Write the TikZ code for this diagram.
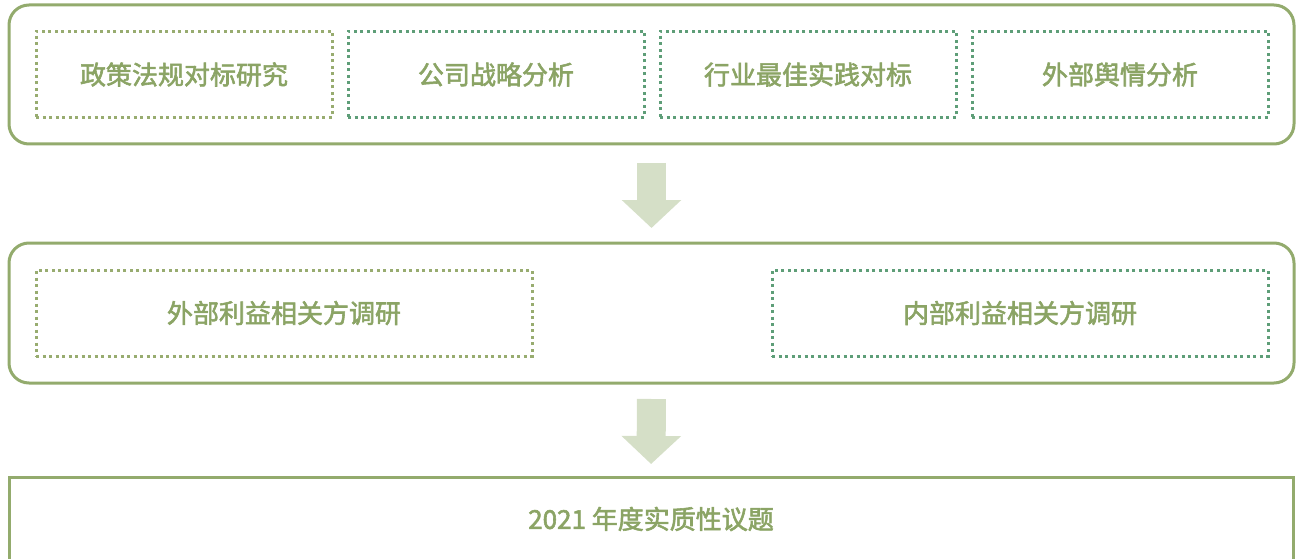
\documentclass[tikz,border=0pt]{standalone}
\usepackage{fontspec}
\newfontfamily\cjk{Noto Sans CJK SC}[FakeBold=2.2]
\usepackage{xcolor}
\usepackage{tikz}
\usetikzlibrary{arrows.meta}

\definecolor{frameg}{HTML}{93AB6D}
\definecolor{oliveg}{HTML}{98AC70}
\definecolor{tealg}{HTML}{5E9E78}
\definecolor{textg}{HTML}{8BA465}
\definecolor{arrowg}{HTML}{D5DFC7}

\begin{document}
\begin{tikzpicture}[x=1pt,y=-1pt,
			frame/.style={draw=frameg,line width=3pt,minimum width=1285pt,inner sep=0pt},
			dotbox/.style={line width=3pt,dash pattern=on 3pt off 3.5pt,minimum height=86pt,inner sep=0pt},
			label/.style={text=textg,font=\cjk\fontsize{26}{30}\selectfont},
			flow/.style={arrowg,line width=29pt,-{Triangle[width=58pt,length=28pt]}}]
			\useasboundingbox (0,0) rectangle (1296,559);
			
			% first row
			\node[frame,rounded corners=20pt,minimum height=139pt] (research) at (651.5,74.5) {};
			\node[dotbox,draw=oliveg,minimum width=296pt,label] (policy) at (184,74.5) {政策法规对标研究};
			\node[dotbox,draw=tealg,minimum width=296pt,label] (strategy) at (496,74.5) {公司战略分析};
			\node[dotbox,draw=tealg,minimum width=296pt,label] (practice) at (808,74.5) {行业最佳实践对标};
			\node[dotbox,draw=tealg,minimum width=296pt,label] (opinion) at (1120,74.5) {外部舆情分析};
			
			% second row
			\node[frame,rounded corners=20pt,minimum height=140pt] (survey) at (651.5,313) {};
			\node[dotbox,draw=oliveg,minimum width=496pt,label] (external) at (284,313) {外部利益相关方调研};
			\node[dotbox,draw=tealg,minimum width=496pt,label] (internal) at (1020,313) {内部利益相关方调研};
			
			% result
			\node[frame,minimum width=1284pt,minimum height=84pt,label] (topics) at (651,519) {2021 年度实质性议题};
			
			\draw[flow,shorten <=17.5pt,shorten >=13.5pt] (research.south) -- (survey.north);
			\draw[flow,shorten <=14.5pt,shorten >=11.5pt] (survey.south) -- (topics.north);
		\end{tikzpicture}
\end{document}
